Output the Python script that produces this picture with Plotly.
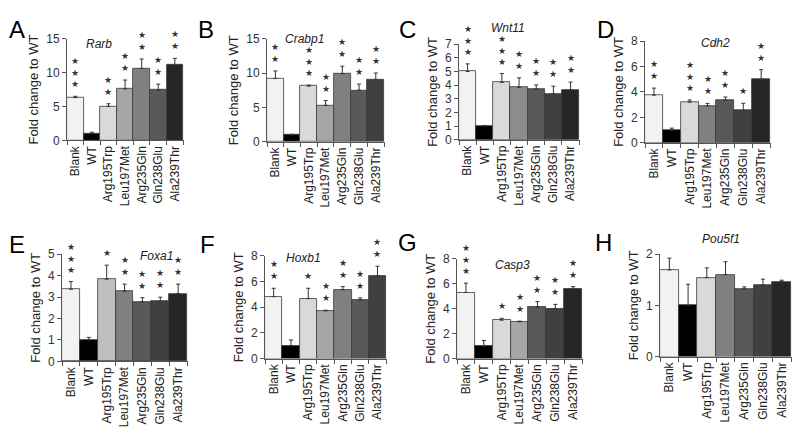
import plotly.graph_objects as go

categories = ["Blank", "WT", "Arg195Trp", "Leu197Met", "Arg235Gln", "Gln238Glu", "Ala239Thr"]

# Panel A - Rarb
rarb = [6.3, 1.0, 5.0, 7.6, 10.6, 7.4, 11.1]
rarb_err = [0.2, 0.2, 0.4, 1.3, 1.4, 0.9, 1.0]
rarb_sig = ["***", "", "**", "**", "**", "**", "**"]
# Panel B - Crabp1
crabp1 = [9.2, 1.0, 8.1, 5.3, 9.9, 7.5, 9.0]
crabp1_err = [1.1, 0.1, 0.15, 0.7, 1.1, 0.9, 1.0]
crabp1_sig = ["**", "", "***", "**", "**", "**", "**"]
# Panel C - Wnt11
wnt11 = [5.0, 1.0, 4.2, 3.83, 3.71, 3.36, 3.64]
wnt11_err = [0.55, 0.05, 0.64, 0.7, 0.3, 0.56, 0.58]
wnt11_sig = ["***", "", "***", "**", "**", "**", "**"]
# Panel D - Cdh2
cdh2 = [3.75, 1.0, 3.2, 2.9, 3.35, 2.53, 5.0]
cdh2_err = [0.55, 0.15, 0.17, 0.2, 0.25, 0.58, 0.75]
cdh2_sig = ["**", "", "***", "**", "**", "*", "**"]
# Panel E - Foxa1
foxa1 = [3.36, 1.0, 3.83, 3.27, 2.77, 2.79, 3.15]
foxa1_err = [0.36, 0.12, 0.65, 0.33, 0.2, 0.2, 0.45]
foxa1_sig = ["***", "", "*", "**", "**", "**", "**"]
# Panel F - Hoxb1
hoxb1 = [4.83, 1.0, 4.68, 3.72, 5.36, 4.55, 6.42]
hoxb1_err = [0.65, 0.45, 0.8, 0.05, 0.25, 0.18, 0.78]
hoxb1_sig = ["**", "", "*", "**", "**", "**", "**"]
# Panel G - Casp3
casp3 = [5.3, 1.0, 3.08, 2.95, 4.12, 4.0, 5.57]
casp3_err = [0.75, 0.45, 0.15, 0.05, 0.45, 0.35, 0.2]
casp3_sig = ["***", "", "*", "**", "**", "**", "**"]
# Panel H - Pou5f1
pou5f1 = [1.69, 1.0, 1.54, 1.6, 1.32, 1.39, 1.46]
pou5f1_err = [0.23, 0.41, 0.19, 0.25, 0.04, 0.12, 0.03]
pou5f1_sig = ["", "", "", "", "", "", ""]

panels = [
    dict(letter="A", gene="Rarb", v=rarb, e=rarb_err, s=rarb_sig, ymax=15, dtick=5,
         colors=["#f2f2f2", "#000000", "#d9d9d9", "#a6a6a6", "#808080", "#595959", "#262626"],
         box=(67, 184, 32.5, 137.5), gpos=(1.45, 0.945), lpos=(8, 8)),
    dict(letter="B", gene="Crabp1", v=crabp1, e=crabp1_err, s=crabp1_sig, ymax=15, dtick=5,
         colors=["#f2f2f2", "#000000", "#d9d9d9", "#a6a6a6", "#808080", "#595959", "#404040"],
         box=(267, 385, 32.5, 139), gpos=(1.75, 1.0), lpos=(197, 8)),
    dict(letter="C", gene="Wnt11", v=wnt11, e=wnt11_err, s=wnt11_sig, ymax=7, dtick=1,
         colors=["#f2f2f2", "#000000", "#d9d9d9", "#8c8c8c", "#595959", "#404040", "#262626"],
         box=(459, 580, 38, 137), gpos=(2.35, 1.17), lpos=(398, 8)),
    dict(letter="D", gene="Cdh2", v=cdh2, e=cdh2_err, s=cdh2_sig, ymax=8, dtick=2,
         colors=["#f2f2f2", "#000000", "#d9d9d9", "#808080", "#595959", "#404040", "#262626"],
         box=(645, 771, 35, 140), gpos=(3.43, 0.985), lpos=(596, 8)),
    dict(letter="E", gene="Foxa1", v=foxa1, e=foxa1_err, s=foxa1_sig, ymax=5, dtick=1,
         colors=["#f2f2f2", "#000000", "#bfbfbf", "#808080", "#595959", "#404040", "#262626"],
         box=(62, 188, 255, 366), gpos=(4.78, 0.985), lpos=(8, 230)),
    dict(letter="F", gene="Hoxb1", v=hoxb1, e=hoxb1_err, s=hoxb1_sig, ymax=8, dtick=2,
         colors=["#f2f2f2", "#000000", "#d9d9d9", "#a6a6a6", "#808080", "#595959", "#404040"],
         box=(265, 387, 257, 363), gpos=(1.7, 0.985), lpos=(199, 230)),
    dict(letter="G", gene="Casp3", v=casp3, e=casp3_err, s=casp3_sig, ymax=8, dtick=2,
         colors=["#f2f2f2", "#000000", "#d9d9d9", "#a6a6a6", "#595959", "#404040", "#262626"],
         box=(457, 583, 260, 363), gpos=(2.6, 0.935), lpos=(397, 228)),
    dict(letter="H", gene="Pou5f1", v=pou5f1, e=pou5f1_err, s=pou5f1_sig, ymax=2, dtick=1,
         colors=["#f2f2f2", "#000000", "#d9d9d9", "#808080", "#595959", "#404040", "#262626"],
         box=(660, 792, 255, 361), gpos=(2.77, 1.15), lpos=(594, 228)),
]

W, H = 800, 434
OFF = 8  # page body margin offset compensation
FONT = "Liberation Sans, Arial, sans-serif"
AX = "#555555"

fig = go.Figure()
annotations = []
layout = {}

for i, p in enumerate(panels):
    n = i + 1
    xa = "x" if n == 1 else f"x{n}"
    ya = "y" if n == 1 else f"y{n}"
    xkey = "xaxis" if n == 1 else f"xaxis{n}"
    ykey = "yaxis" if n == 1 else f"yaxis{n}"
    x0, x1, y0, y1 = [c - OFF for c in p["box"]]

    fig.add_trace(go.Bar(
        x=categories, y=p["v"], xaxis=xa, yaxis=ya,
        marker=dict(color=p["colors"], line=dict(color="#3a3a3a", width=0.8)),
        error_y=dict(type="data", array=p["e"], arrayminus=[0] * len(p["e"]),
                     symmetric=False, color="#333333", thickness=1, width=2),
        showlegend=False, hoverinfo="x+y",
    ))

    layout[xkey] = dict(
        domain=[x0 / W, x1 / W], anchor=ya, type="category",
        range=[-0.5, 6.55], showline=True, linecolor=AX, linewidth=1,
        ticks="outside", tickson="boundaries", ticklen=4, tickcolor=AX,
        tickangle=-90, tickfont=dict(family=FONT, size=12, color="#222222"),
        showgrid=False, zeroline=False, fixedrange=True,
    )
    layout[ykey] = dict(
        domain=[1 - y1 / H, 1 - y0 / H], anchor=xa,
        range=[0, p["ymax"]], dtick=p["dtick"], tick0=0,
        showline=True, linecolor=AX, linewidth=1,
        ticks="outside", ticklen=4, tickcolor=AX,
        tickfont=dict(family=FONT, size=12, color="#333333"),
        showgrid=False, zeroline=False, fixedrange=True,
        title=dict(text="Fold change to WT", standoff=4,
                   font=dict(family=FONT, size=13, color="#222222")),
    )

    # significance stars
    for c, val, err, sig in zip(categories, p["v"], p["e"], p["s"]):
        if sig:
            annotations.append(dict(
                x=c, y=val + err, xref=xa, yref=ya, xanchor="center", yanchor="bottom",
                text="<br>".join(["★"] * len(sig)), showarrow=False, yshift=5,
                font=dict(family="DejaVu Sans", size=9, color="#333333"),
            ))

    # gene label
    annotations.append(dict(
        x=p["gpos"][0], y=p["gpos"][1], xref=xa, yref=f"{ya} domain",
        xanchor="center", yanchor="middle",
        text=f"<i>{p['gene']}</i>", showarrow=False, borderpad=0,
        font=dict(family=FONT, size=12, color="#222222"),
    ))

    # panel letter
    annotations.append(dict(
        x=(p["lpos"][0] - OFF) / W, y=1 - (p["lpos"][1] - OFF) / H, xref="paper", yref="paper",
        xanchor="left", yanchor="top", text=p["letter"], showarrow=False, borderpad=0,
        font=dict(family=FONT, size=24, color="#000000"),
    ))

fig.update_layout(
    width=W, height=H, margin=dict(l=0, r=0, t=0, b=0),
    paper_bgcolor="white", plot_bgcolor="white",
    bargap=0, annotations=annotations, **layout,
)

fig.write_html("out.html")
